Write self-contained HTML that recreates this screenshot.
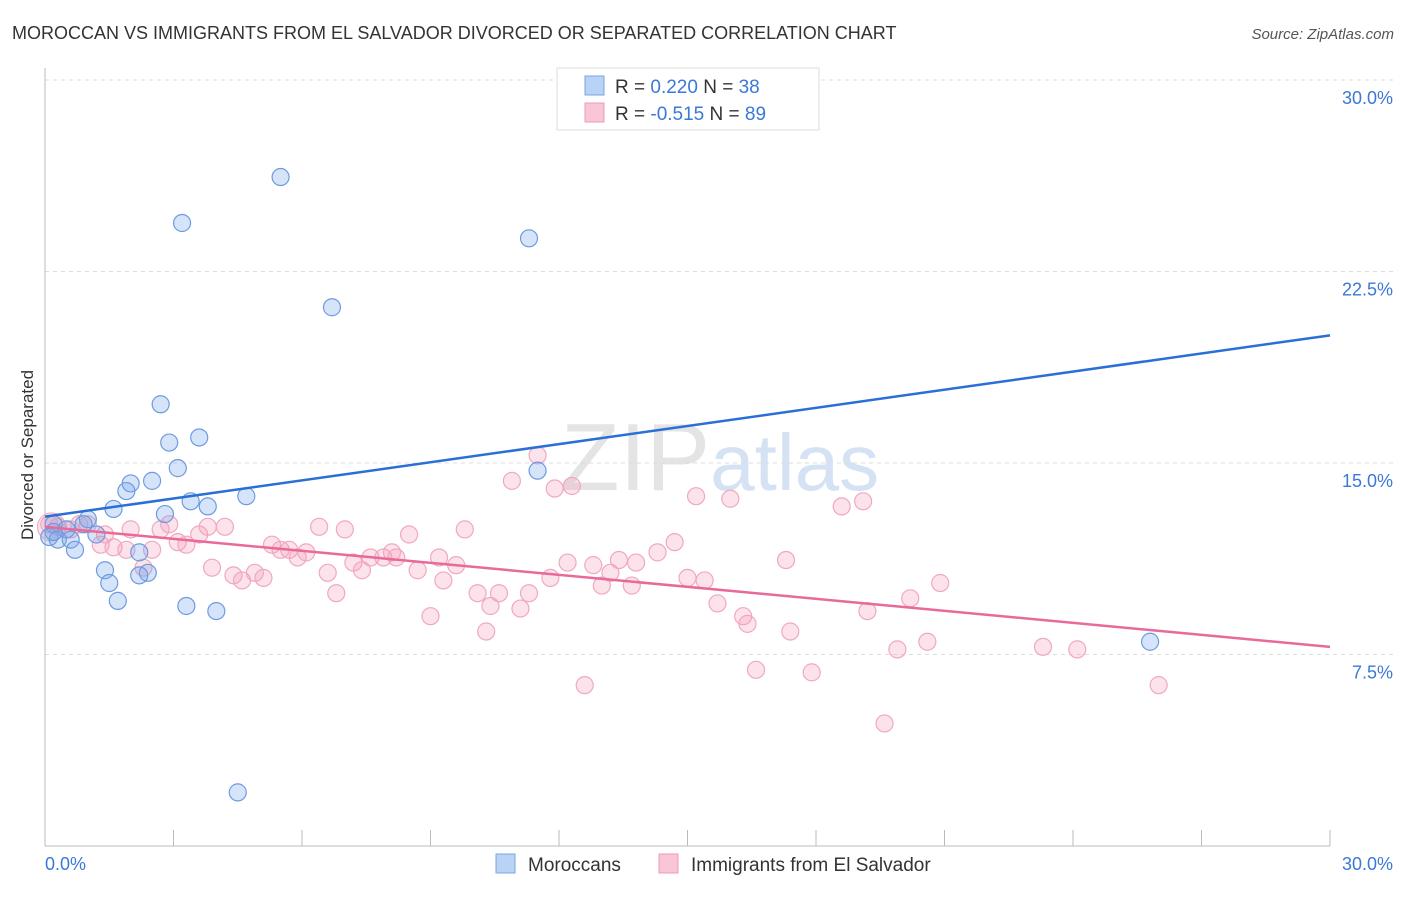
<!DOCTYPE html>
<html><head><meta charset="utf-8"><style>
body{margin:0;background:#fff;font-family:"Liberation Sans",sans-serif;}
svg text{font-family:"Liberation Sans",sans-serif;}
</style></head><body>
<svg id="chart" width="1406" height="892" xmlns="http://www.w3.org/2000/svg">
<text x="12" y="39" font-size="18" fill="#333">MOROCCAN VS IMMIGRANTS FROM EL SALVADOR DIVORCED OR SEPARATED CORRELATION CHART</text>
<text x="1394" y="39" font-size="15" fill="#555" text-anchor="end" font-style="italic">Source: ZipAtlas.com</text>
<text x="720" y="490" font-size="96" fill="#e4e4e4" text-anchor="middle" font-family="Liberation Serif">ZIP<tspan fill="#d4e2f4" font-family="Liberation Sans" font-size="80">atlas</tspan></text>
<g id="grid"></g><g id="axes"></g><g id="marks"></g>
<text transform="translate(33,455) rotate(-90)" font-size="17" fill="#333" text-anchor="middle">Divorced or Separated</text>
<g>
<rect x="557" y="68" width="262" height="62" fill="#fff" stroke="#ddd"/>
<rect x="585" y="76" width="19" height="19" fill="#b9d3f5" stroke="#7aa6e3"/>
<rect x="585" y="103" width="19" height="19" fill="#f8c6d4" stroke="#ee9bb6"/>
<text x="615" y="93" font-size="19" fill="#333">R = <tspan fill="#3b78d8">0.220</tspan>   N = <tspan fill="#3b78d8">38</tspan></text>
<text x="615" y="120" font-size="19" fill="#333">R = <tspan fill="#3b78d8">-0.515</tspan>   N = <tspan fill="#3b78d8">89</tspan></text>
</g>
<g>
<rect x="496" y="854" width="19" height="19" fill="#b9d3f5" stroke="#7aa6e3"/>
<text x="528" y="871" font-size="19" fill="#333">Moroccans</text>
<rect x="659" y="854" width="19" height="19" fill="#f8c6d4" stroke="#ee9bb6"/>
<text x="691" y="871" font-size="19" fill="#333">Immigrants from El Salvador</text>
</g>
</svg>
<script>
const yTicks=[7.5,15,22.5,30];
const yTickLabels=["7.5%","15.0%","22.5%","30.0%"];
const xTickLabels=["0.0%","30.0%"];
const blueX=[12.7,5.5,3.2,11.3,6.7,2.7,2.9,3.6,3.1,2.5,2.0,1.9,1.6,3.4,3.8,4.7,2.8,1.0,0.2,0.5,0.1,0.3,0.6,1.2,0.7,2.2,1.4,1.5,2.4,2.2,1.7,3.3,4.0,11.5,25.8,4.5,0.2,0.9];
const blueY=[28.4,26.2,24.4,23.8,21.1,17.3,15.8,16.0,14.8,14.3,14.2,13.9,13.2,13.5,13.3,13.7,13.0,12.8,12.6,12.4,12.1,12.0,12.0,12.2,11.6,11.5,10.8,10.3,10.7,10.6,9.6,9.4,9.2,14.7,8.0,2.1,12.3,12.6];
const pinkX=[0.1,0.3,0.6,0.8,1.0,1.3,1.4,1.6,1.9,2.0,2.3,2.5,2.7,2.9,3.1,3.3,3.6,3.8,3.9,4.2,4.4,4.6,4.9,5.1,5.3,5.5,5.7,5.9,6.1,6.4,6.6,6.8,7.0,7.2,7.4,7.6,7.9,8.1,8.2,8.5,8.7,9.0,9.2,9.3,9.6,9.8,10.1,10.3,10.4,10.6,10.9,11.1,11.3,11.5,11.8,11.9,12.2,12.3,12.6,12.8,13.0,13.2,13.4,13.7,13.8,14.3,14.7,15.0,15.2,15.4,15.7,16.0,16.3,16.4,16.6,17.3,17.4,17.9,18.6,19.1,19.2,19.6,19.9,20.2,20.6,20.9,23.3,24.1,26.0];
const pinkY=[12.6,12.5,12.4,12.6,12.6,11.8,12.2,11.7,11.6,12.4,10.9,11.6,12.4,12.6,11.9,11.8,12.2,12.5,10.9,12.5,10.6,10.4,10.7,10.5,11.8,11.6,11.6,11.3,11.5,12.5,10.7,9.9,12.4,11.1,10.8,11.3,11.3,11.5,11.3,12.2,10.8,9.0,11.3,10.4,11.0,12.4,9.9,8.4,9.4,9.9,14.3,9.3,9.9,15.3,10.5,14.0,11.1,14.1,6.3,11.0,10.2,10.7,11.2,10.2,11.1,11.5,11.9,10.5,13.7,10.4,9.5,13.6,9.0,8.7,6.9,11.2,8.4,6.8,13.3,13.5,9.2,4.8,7.7,9.7,8.0,10.3,7.8,7.7,6.3];
const blueLine=[12.9,20.0];
const pinkLine=[12.5,7.8];
const NS="http://www.w3.org/2000/svg";
const X0=45,X1=1330,YB=846,YT=80;
const xs=v=>X0+v/30*(X1-X0);
const ys=v=>YB-v/30*(YB-YT);
function mk(tag,attrs,parent){const e=document.createElementNS(NS,tag);for(const k in attrs)e.setAttribute(k,attrs[k]);document.getElementById(parent).appendChild(e);return e;}
yTicks.forEach((t,i)=>{
 const g=mk('line',{x1:X0,x2:1394,y1:ys(t),y2:ys(t),stroke:'#ddd','stroke-dasharray':'4,4'},'grid');
 
 
 const l=mk('text',{x:1393,y:ys(t)+24,'font-size':18,fill:'#3b78d8','text-anchor':'end'},'axes');l.textContent=yTickLabels[i];
 
 
});
const ax=mk('line',{x1:X0,x2:X0,y1:68,y2:YB,stroke:'#bbb'},'axes');


const bx=mk('line',{x1:X0,x2:X1,y1:YB,y2:YB,stroke:'#bbb'},'axes');


for(let i=0;i<=10;i++){const t=mk('line',{x1:xs(i*3),x2:xs(i*3),y1:830,y2:YB,stroke:'#bbb'},'axes');
 
 }
[[0,'start',45],[30,'end',1393]].forEach((d,i)=>{const t=mk('text',{x:d[2],y:870,'font-size':18,fill:'#3b78d8','text-anchor':d[1]},'axes');t.textContent=xTickLabels[i];
 
 });
const big=mk('circle',{cx:xs(0.15),cy:ys(12.5),r:14,fill:'rgba(240,140,170,0.25)',stroke:'#f0a8c0'},'marks');


pinkX.forEach((x,i)=>{const c=mk('circle',{cx:xs(x),cy:ys(pinkY[i]),r:8.5,fill:'rgba(244,160,188,0.3)',stroke:'#f0a8c0','stroke-width':1.2},'marks');
 
 });
blueX.forEach((x,i)=>{const c=mk('circle',{cx:xs(x),cy:ys(blueY[i]),r:8.5,fill:'rgba(120,165,235,0.3)',stroke:'#6e9be0','stroke-width':1.2},'marks');
 
 });
const bl=mk('line',{x1:xs(0),x2:xs(30),y1:ys(blueLine[0]),y2:ys(blueLine[1]),stroke:'#2a6fd6','stroke-width':2.5},'marks');


const pl=mk('line',{x1:xs(0),x2:xs(30),y1:ys(pinkLine[0]),y2:ys(pinkLine[1]),stroke:'#e8699a','stroke-width':2.5},'marks');


</script>
</body></html>
